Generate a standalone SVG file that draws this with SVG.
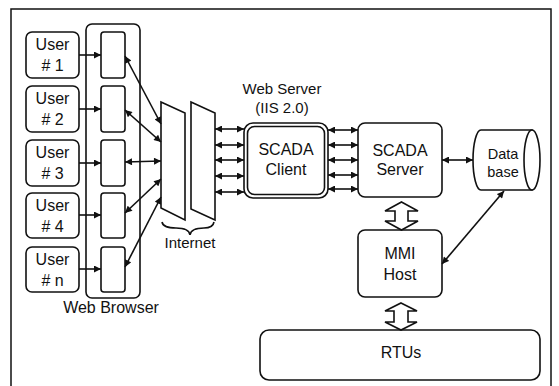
<svg xmlns="http://www.w3.org/2000/svg" width="559" height="386" viewBox="0 0 559 386">
<defs>
<style>
.box{fill:#fff;stroke:#111;stroke-width:1.6}
.t{font-family:"Liberation Sans",Arial,sans-serif;font-size:16px;fill:#111;text-anchor:middle}
.s{font-size:15px}
.ln{stroke:#111;stroke-width:1.6;fill:none}
.ar{stroke:#111;stroke-width:1.6;fill:none;marker-end:url(#ah)}
.ar2{stroke:#111;stroke-width:1.6;fill:none;marker-end:url(#ah);marker-start:url(#ah)}
</style>
<marker id="ah" viewBox="0 0 10 10" refX="10" refY="5" markerWidth="8" markerHeight="7" markerUnits="userSpaceOnUse" orient="auto-start-reverse">
<path d="M0,0 L10,5 L0,10 z" fill="#111"/>
</marker>
</defs>
<rect x="0" y="0" width="559" height="386" fill="#fff"/>
<rect id="frame" x="11" y="9" width="540" height="392" fill="none" stroke="#111" stroke-width="1.5"/>

<g id="users">
<g id="user1"><rect class="box" x="26" y="32" width="53" height="46" rx="6"/><text class="t" x="52.5" y="50">User</text><text class="t" x="52.5" y="71"># 1</text></g>
<g id="user2"><rect class="box" x="26" y="86" width="53" height="46" rx="6"/><text class="t" x="52.5" y="104">User</text><text class="t" x="52.5" y="125"># 2</text></g>
<g id="user3"><rect class="box" x="26" y="140" width="53" height="46" rx="6"/><text class="t" x="52.5" y="158">User</text><text class="t" x="52.5" y="179"># 3</text></g>
<g id="user4"><rect class="box" x="26" y="193" width="53" height="45" rx="6"/><text class="t" x="52.5" y="211">User</text><text class="t" x="52.5" y="232"># 4</text></g>
<g id="usern"><rect class="box" x="26" y="247" width="53" height="45" rx="6"/><text class="t" x="52.5" y="265">User</text><text class="t" x="52.5" y="286"># n</text></g>
</g>

<g id="webbrowser">
<rect class="box" x="86" y="24" width="54" height="274" rx="6"/>
<rect class="box" x="101" y="32" width="24" height="46" rx="3"/>
<rect class="box" x="101" y="86" width="24" height="46" rx="3"/>
<rect class="box" x="101" y="140" width="24" height="46" rx="3"/>
<rect class="box" x="101" y="193" width="24" height="45" rx="3"/>
<rect class="box" x="101" y="247" width="24" height="45" rx="3"/>
<text class="t" x="111" y="313">Web Browser</text>
</g>

<g id="internet">
<polygon class="box" points="161,102 185,113 185,220 161,208"/>
<polygon class="box" points="191,102 215,113 215,220 191,209"/>
<path class="ln" d="M162,222 Q163,228 176,228 Q189,228 190,235 Q191,228 204,228 Q213,228 214,222"/>
<text class="t s" x="190" y="248">Internet</text>
</g>

<g id="webserver">
<text class="t s" x="282" y="94">Web Server</text>
<text class="t s" x="282" y="113">(IIS 2.0)</text>
<rect class="box" x="244" y="123" width="84" height="75" rx="9"/>
<rect class="box" x="247.5" y="126.5" width="77" height="68" rx="7"/>
<text class="t" x="286" y="155">SCADA</text>
<text class="t" x="286" y="175">Client</text>
</g>

<g id="scadaserver">
<rect class="box" x="358" y="123" width="84" height="74" rx="7"/>
<text class="t" x="400" y="156">SCADA</text>
<text class="t" x="400" y="175">Server</text>
</g>

<g id="database">
<path class="box" d="M481,130 L532,130 L532,190 L481,190 A8,30 0 0 1 481,130 z"/>
<ellipse class="box" cx="532" cy="160" rx="8" ry="30"/>
<text class="t" x="503" y="159" style="font-size:14.5px">Data</text>
<text class="t" x="503" y="177" style="font-size:14.5px">base</text>
</g>

<g id="mmihost">
<rect class="box" x="358" y="230" width="84" height="67" rx="7"/>
<text class="t" x="400" y="259">MMI</text>
<text class="t" x="400" y="280">Host</text>
</g>

<g id="rtus">
<rect class="box" x="260" y="330" width="280" height="50" rx="9"/>
<text class="t" x="401" y="358">RTUs</text>
</g>

<g id="connectors">
<line class="ar" x1="79" y1="55" x2="101" y2="55"/>
<line class="ar" x1="79" y1="109" x2="101" y2="109"/>
<line class="ar" x1="79" y1="163" x2="101" y2="163"/>
<line class="ar" x1="79" y1="215" x2="101" y2="215"/>
<line class="ar" x1="79" y1="269" x2="101" y2="269"/>

<line class="ar2" x1="125" y1="56" x2="161" y2="124"/>
<line class="ar2" x1="125" y1="110" x2="161" y2="142"/>
<line class="ar2" x1="125" y1="162" x2="161" y2="161"/>
<line class="ar2" x1="125" y1="213" x2="161" y2="179"/>
<line class="ar2" x1="125" y1="267" x2="161" y2="197"/>

<line class="ar2" x1="215" y1="129" x2="244" y2="129"/>
<line class="ar2" x1="215" y1="145" x2="244" y2="145"/>
<line class="ar2" x1="215" y1="160" x2="244" y2="160"/>
<line class="ar2" x1="215" y1="176" x2="244" y2="176"/>
<line class="ar2" x1="215" y1="192" x2="244" y2="192"/>

<line class="ar2" x1="328" y1="130" x2="358" y2="130"/>
<line class="ar2" x1="328" y1="145" x2="358" y2="145"/>
<line class="ar2" x1="328" y1="160" x2="358" y2="160"/>
<line class="ar2" x1="328" y1="175" x2="358" y2="175"/>
<line class="ar2" x1="328" y1="189" x2="358" y2="189"/>

<line class="ar2" x1="442" y1="160" x2="473" y2="160"/>
<line class="ar2" x1="442" y1="264" x2="504" y2="191"/>

<polygon class="box" points="401.5,202 418,211 408,211 408,221 418,221 401.5,230 385,221 395,221 395,211 385,211"/>
<polygon class="box" points="401,303 417,311 408,311 408,322 417,322 401,330 385,322 394,322 394,311 385,311"/>
</g>
</svg>
